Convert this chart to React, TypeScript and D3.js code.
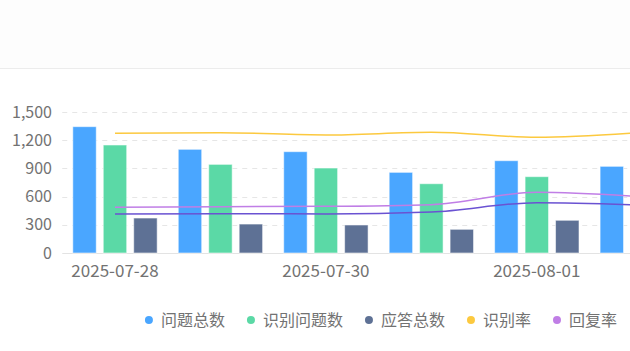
import { useRef, useEffect } from 'react';
import * as d3 from 'd3';

const dates = ['2025-07-28', '2025-07-29', '2025-07-30', '2025-07-31', '2025-08-01', '2025-08-02'];
const tickDates = ['2025-07-28', '2025-07-30', '2025-08-01'];

// bar series (counts)
const questionTotal = [1344, 1103, 1078, 858, 982, 922];
const recognizedTotal = [1149, 943, 904, 737, 812, 790];
const answerTotal = [372, 308, 298, 252, 348, 330];

// line series (percent, right axis)
const recognizeRate = [84.9, 85.3, 83.7, 85.6, 82.1, 85.5];
const replyRate = [32.4, 32.8, 33.1, 34.3, 43.0, 39.9];
const answerRate = [27.7, 27.9, 27.7, 29.1, 35.7, 34.0];

const yTicks = [0, 300, 600, 900, 1200, 1500];

const barKeys = ['问题总数', '识别问题数', '应答总数'];
const barColors = ['#4aa6ff', '#5bd9a6', '#5e7195'];

const legendItems = [
  { name: '问题总数', color: '#4aa6ff' },
  { name: '识别问题数', color: '#5bd9a6' },
  { name: '应答总数', color: '#5e7195' },
  { name: '识别率', color: '#fcc93f' },
  { name: '回复率', color: '#c07ee6' },
];

const Chart = ({ width = 630, height = 351 }) => {
  const svgRef = useRef(null);

  useEffect(() => {
    const svg = d3.select(svgRef.current);
    svg.selectAll('*').remove();

    const font = '"Noto Sans CJK SC", "Noto Sans", sans-serif';
    const top = 112;
    const bottom = 253;
    const left = 62.25;
    // plot area is wider than the window, last group gets cut off
    const right = 695;

    // header strip
    svg.append('rect').attr('x', 0).attr('y', 0).attr('width', width).attr('height', 68).attr('fill', '#fdfdfd');
    svg.append('line')
      .attr('x1', 0).attr('x2', width)
      .attr('y1', 68.5).attr('y2', 68.5)
      .attr('stroke', '#ececec');

    const x0 = d3.scaleBand().domain(dates).range([left, right]).paddingInner(0.2).paddingOuter(0.1);
    const x1 = d3.scaleBand().domain(barKeys).range([0, x0.bandwidth()]).paddingInner(0.23);
    const y = d3.scaleLinear().domain([0, 1500]).range([bottom, top]);
    const yRate = d3.scaleLinear().domain([0, 100]).range([bottom, top]);
    const cx = (d: string) => (x0(d) as number) + x0.bandwidth() / 2;

    // grid
    svg.append('g')
      .selectAll('line')
      .data(yTicks.filter((t) => t > 0))
      .join('line')
      .attr('x1', left).attr('x2', width)
      .attr('y1', (d) => Math.round(y(d)) + 0.5)
      .attr('y2', (d) => Math.round(y(d)) + 0.5)
      .attr('stroke', '#e6e6e6')
      .attr('stroke-dasharray', '5,5');

    svg.append('line')
      .attr('x1', left).attr('x2', width)
      .attr('y1', bottom + 0.5).attr('y2', bottom + 0.5)
      .attr('stroke', '#e3e3e3');

    // y labels
    svg.append('g')
      .selectAll('text')
      .data(yTicks)
      .join('text')
      .attr('x', 52)
      .attr('y', (d) => y(d))
      .attr('dy', '0.35em')
      .attr('text-anchor', 'end')
      .attr('font-family', font)
      .attr('font-size', 16)
      .attr('fill', '#727272')
      .text((d) => d3.format(',')(d));

    // x labels
    svg.append('g')
      .selectAll('text')
      .data(tickDates)
      .join('text')
      .attr('x', (d) => cx(d))
      .attr('y', 277)
      .attr('text-anchor', 'middle')
      .attr('font-family', font)
      .attr('font-size', 17)
      .attr('fill', '#727272')
      .text((d) => d);

    // bars
    const barData = [questionTotal, recognizedTotal, answerTotal];
    const groups = svg.append('g')
      .selectAll('g')
      .data(dates)
      .join('g')
      .attr('transform', (d) => `translate(${x0(d)},0)`);

    groups.selectAll('rect')
      .data((_, i) => barKeys.map((k, j) => ({ key: k, value: barData[j][i], color: barColors[j] })))
      .join('rect')
      .attr('x', (d) => x1(d.key) as number)
      .attr('y', (d) => y(d.value))
      .attr('width', x1.bandwidth())
      .attr('height', (d) => bottom - y(d.value))
      .attr('fill', (d) => d.color)
      .attr('stroke', 'rgba(255,255,255,0.55)')
      .attr('stroke-width', 1);

    // rate lines
    const lineGen = d3.line<number>()
      .x((_, i) => cx(dates[i]))
      .y((d) => yRate(d))
      .curve(d3.curveMonotoneX);

    const lines = [
      { data: recognizeRate, color: '#fcc93f' },
      { data: replyRate, color: '#c07ee6' },
      { data: answerRate, color: '#6a52d2' },
    ];
    svg.append('g')
      .selectAll('path')
      .data(lines)
      .join('path')
      .attr('d', (d) => lineGen(d.data))
      .attr('fill', 'none')
      .attr('stroke', (d) => d.color)
      .attr('stroke-width', 1.5);

    // legend, right aligned
    const legend = svg.append('g').attr('font-family', font).attr('font-size', 16).attr('fill', '#727272');
    let lx = 617;
    const ly = 320;
    [...legendItems].reverse().forEach((item) => {
      const t = legend.append('text')
        .attr('x', lx)
        .attr('y', ly)
        .attr('dy', '0.35em')
        .attr('text-anchor', 'end')
        .text(item.name);
      const w = (t.node() as SVGTextElement).getComputedTextLength();
      legend.append('circle')
        .attr('cx', lx - w - 12)
        .attr('cy', ly)
        .attr('r', 4)
        .attr('fill', item.color);
      lx = lx - w - 12 - 26;
    });
  }, [width, height]);

  return (
    <svg
      ref={svgRef}
      width={width}
      height={height}
      style={{ position: 'absolute', left: 0, top: 0, overflow: 'hidden', background: '#fff' }}
    />
  );
};

export default function App() {
  return <Chart />;
}
